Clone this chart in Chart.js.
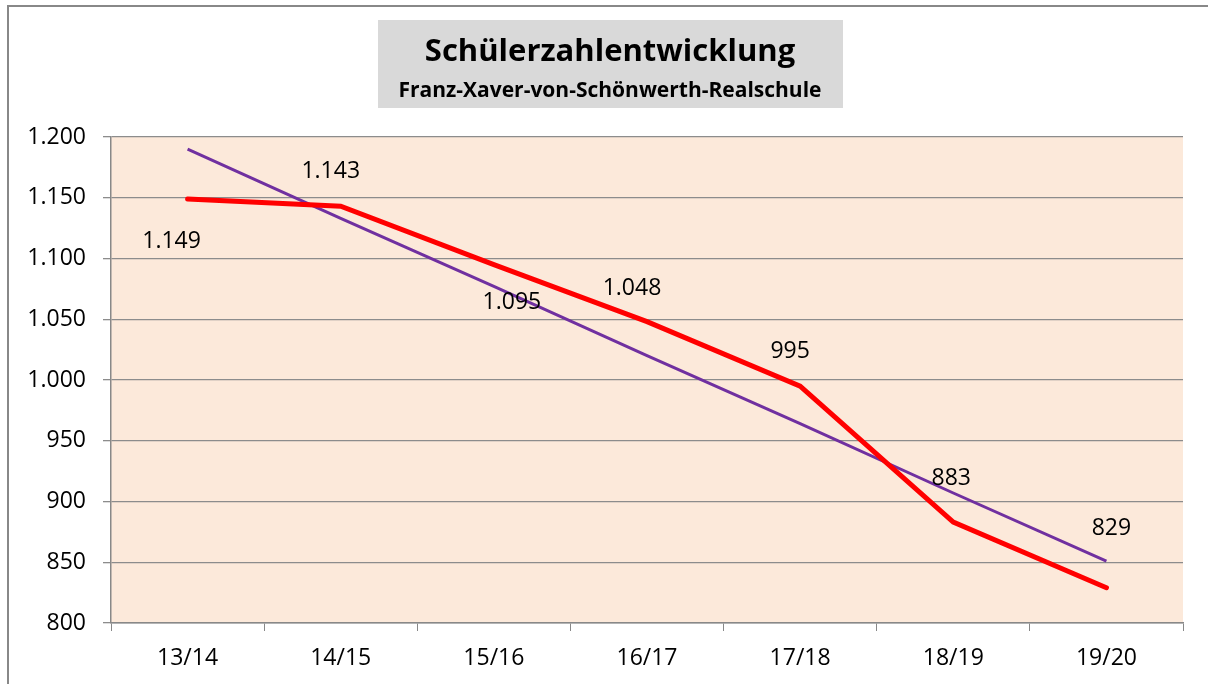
<!DOCTYPE html>
<html>
<head>
<meta charset="utf-8">
<script src="https://cdn.jsdelivr.net/npm/chart.js@4.4.0/dist/chart.umd.min.js"></script>
<style>
  html, body { margin: 0; padding: 0; background: #fff; }
  #wrap { width: 1208px; height: 684px; position: relative; }
</style>
</head>
<body>
<div id="wrap"><canvas id="chart" width="1208" height="684"></canvas></div>
<script>
// Schuljahre und Schülerzahlen
const schoolYears = ['13/14', '14/15', '15/16', '16/17', '17/18', '18/19', '19/20'];
const studentCounts = [1149, 1143, 1095, 1048, 995, 883, 829];
// linearer Trend
const trendValues = [1190, 1133, 1077, 1020, 964, 907, 851];
const yTicks = [800, 850, 900, 950, 1000, 1050, 1100, 1150, 1200];

const titleText = 'Schülerzahlentwicklung';
const subtitleText = 'Franz-Xaver-von-Schönwerth-Realschule';

const FONT = '"Open Sans", Lato, sans-serif';

// German thousands separator
function fmt(n) {
    return String(n).replace(/\B(?=(\d{3})+(?!\d))/g, '.');
}

// Excel put the data labels a bit all over the place
const labelOffsets = [[-16, 42], [-10, -35], [18, 38], [-15, -33], [-10, -35], [-2, -44], [5, -59]];

const framePlugin = {
    id: 'frame',
    beforeDraw(chart) {
        const { ctx, chartArea: a } = chart;
        ctx.save();
        // outer chart border
        ctx.strokeStyle = '#888888';
        ctx.lineWidth = 2;
        ctx.strokeRect(8, 6, 1300, 800);
        // plot background
        ctx.fillStyle = '#fce9da';
        ctx.fillRect(a.left, a.top, a.right - a.left, a.bottom - a.top);
        // title box
        ctx.fillStyle = '#d9d9d9';
        ctx.fillRect(378, 20, 465, 88);
        ctx.fillStyle = '#000';
        ctx.textAlign = 'center';
        ctx.textBaseline = 'alphabetic';
        ctx.font = 'bold 31px ' + FONT;
        ctx.fillText(titleText, 610, 61);
        ctx.font = 'bold 21px ' + FONT;
        ctx.fillText(subtitleText, 610, 97);
        ctx.restore();
    }
};

const labelPlugin = {
    id: 'pointLabels',
    afterDatasetsDraw(chart) {
        const { ctx } = chart;
        const meta = chart.getDatasetMeta(0);
        ctx.save();
        ctx.fillStyle = '#000';
        ctx.font = '23px ' + FONT;
        ctx.textAlign = 'center';
        ctx.textBaseline = 'middle';
        meta.data.forEach((pt, i) => {
            const off = labelOffsets[i];
            ctx.fillText(fmt(studentCounts[i]), pt.x + off[0], pt.y + off[1]);
        });
        ctx.restore();
    }
};

new Chart(document.getElementById('chart'), {
    type: 'line',
    data: {
        labels: schoolYears,
        datasets: [{
            label: 'Schüler',
            data: studentCounts,
            borderColor: '#ff0000',
            borderWidth: 5,
            pointRadius: 0,
            tension: 0,
            borderCapStyle: 'round'
        }, {
            label: 'Trend',
            data: trendValues,
            borderColor: '#7030a0',
            borderWidth: 3,
            pointRadius: 0,
            tension: 0
        }]
    },
    options: {
        responsive: false,
        animation: false,
        layout: { padding: { left: 0, top: 137, right: 25, bottom: 0 } },
        plugins: {
            legend: { display: false },
            tooltip: { enabled: false }
        },
        scales: {
            x: {
                offset: true,
                grid: {
                    offset: true,
                    drawOnChartArea: false,
                    color: '#888888',
                    tickLength: 8
                },
                border: { color: '#888888', width: 1.5 },
                ticks: { color: '#000', font: { family: FONT, size: 23 }, padding: 14, maxRotation: 0 },
                afterFit(scale) { scale.height = 61; }
            },
            y: {
                min: 800,
                max: 1200,
                afterBuildTicks(scale) { scale.ticks = yTicks.map(v => ({ value: v })); },
                grid: { color: '#8c8c8c', lineWidth: 1.3, tickLength: 8 },
                border: { color: '#888888', width: 1.5 },
                ticks: {
                    color: '#000',
                    font: { family: FONT, size: 23 },
                    padding: 17,
                    callback: v => fmt(v)
                },
                afterFit(scale) { scale.width = 111; }
            }
        }
    },
    plugins: [framePlugin, labelPlugin]
});
</script>
</body>
</html>
